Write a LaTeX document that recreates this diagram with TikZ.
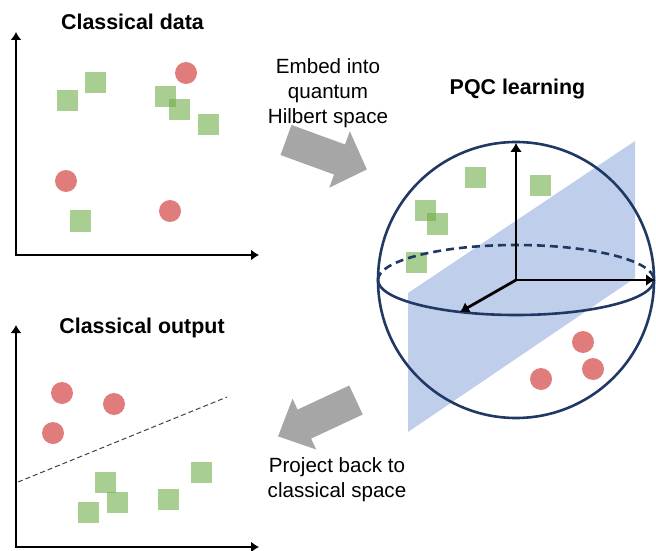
\documentclass[tikz,border=0pt]{standalone}
\usepackage{fontspec}
\setmainfont{Liberation Sans}
\usetikzlibrary{arrows.meta}
\definecolor{dotgreen}{RGB}{112,173,71}
\definecolor{dotred}{RGB}{224,124,124}
\definecolor{planeblue}{RGB}{180,199,231}
\definecolor{spherenavy}{RGB}{32,56,100}
\definecolor{arrowgray}{RGB}{166,166,166}
\begin{document}
\begin{tikzpicture}[x=0.5pt, y=-0.5pt,
    axis/.style={line width=1pt, {Latex[length=4pt,width=5.5pt]}-{Latex[length=4pt,width=5.5pt]}},
    saxis/.style={line width=1.4pt, -{Latex[length=4.5pt,width=6pt]}},
    sline/.style={spherenavy, line width=1.3pt},
    sqr/.style={fill=dotgreen, fill opacity=0.6},
    dot/.style={fill=dotred},
    title/.style={font=\fontsize{10.7}{12}\selectfont\bfseries, anchor=base, inner sep=0pt},
    caption/.style={font=\fontsize{10.3}{12.5}\selectfont, align=center, anchor=north, inner sep=0pt}]
    \useasboundingbox (0,0) rectangle (656,550);

    \node[title] (datatitle) at (132.5,29.5) {Classical data};
    \draw[axis] (16,32) -- (16,255) -- (259,255);
    \foreach \x/\y in {67/101, 95/83, 165/97, 179/110, 208/125, 80/221}
        \fill[sqr] (\x-10.5,\y-10.5) rectangle ++(21,21);
    \foreach \x/\y in {186/73, 66/181, 170/211}
        \fill[dot] (\x,\y) circle[radius=11];

    \node[caption] (embedtext) at (328,58) {Embed into\\quantum\\Hilbert space};
    \fill[arrowgray, shift={(286,140)}, rotate=-20] (0,-16) -- (57,-16) -- (57,-30) -- (86,0) -- (57,30) -- (57,16) -- (0,16) -- cycle;

    \node[title] (pqctitle) at (517.5,95) {PQC learning};
    \fill[planeblue, fill opacity=0.85] (408,293) -- (635,141) -- (635,278) -- (408,432) -- cycle;
    \foreach \x/\y in {475/178, 540/186, 425/211, 437/224, 416/262}
        \fill[sqr] (\x-10.5,\y-10.5) rectangle ++(21,21);
    \foreach \x/\y in {583/342, 593/369, 541/379}
        \fill[dot] (\x,\y) circle[radius=11];
    \draw[sline] (516,280) circle[radius=138];
    \draw[sline] (654,280) arc[start angle=0, end angle=180, x radius=138, y radius=35];
    \draw[sline, dash pattern=on 4pt off 2.5pt] (378,280) arc[start angle=180, end angle=360, x radius=138, y radius=35];
    \coordinate (origin) at (516,280);
    \coordinate (zup) at (516,143);
    \coordinate (yright) at (655,280);
    \coordinate (xfront) at (460,312);
    \draw[saxis] (origin) -- (zup);
    \draw[saxis] (origin) -- (yright);
    \draw[saxis] (origin) -- (xfront);

    \fill[arrowgray, shift={(356,400)}, rotate=205] (0,-16) -- (57,-16) -- (57,-28) -- (86,0) -- (57,28) -- (57,16) -- (0,16) -- cycle;
    \node[caption] (projecttext) at (337,457) {Project back to\\classical space};

    \node[title] (outtitle) at (142,333) {Classical output};
    \draw[axis] (16,325) -- (16,547) -- (259,547);
    \draw[black!75, line width=0.5pt, dash pattern=on 2.5pt off 1.5pt] (18,482) -- (227,397);
    \foreach \x/\y in {105/482, 117/502, 88/512, 168/499, 201/472}
        \fill[sqr] (\x-10.5,\y-10.5) rectangle ++(21,21);
    \foreach \x/\y in {62/393, 114/404, 53/433}
        \fill[dot] (\x,\y) circle[radius=11];
\end{tikzpicture}
\end{document}
